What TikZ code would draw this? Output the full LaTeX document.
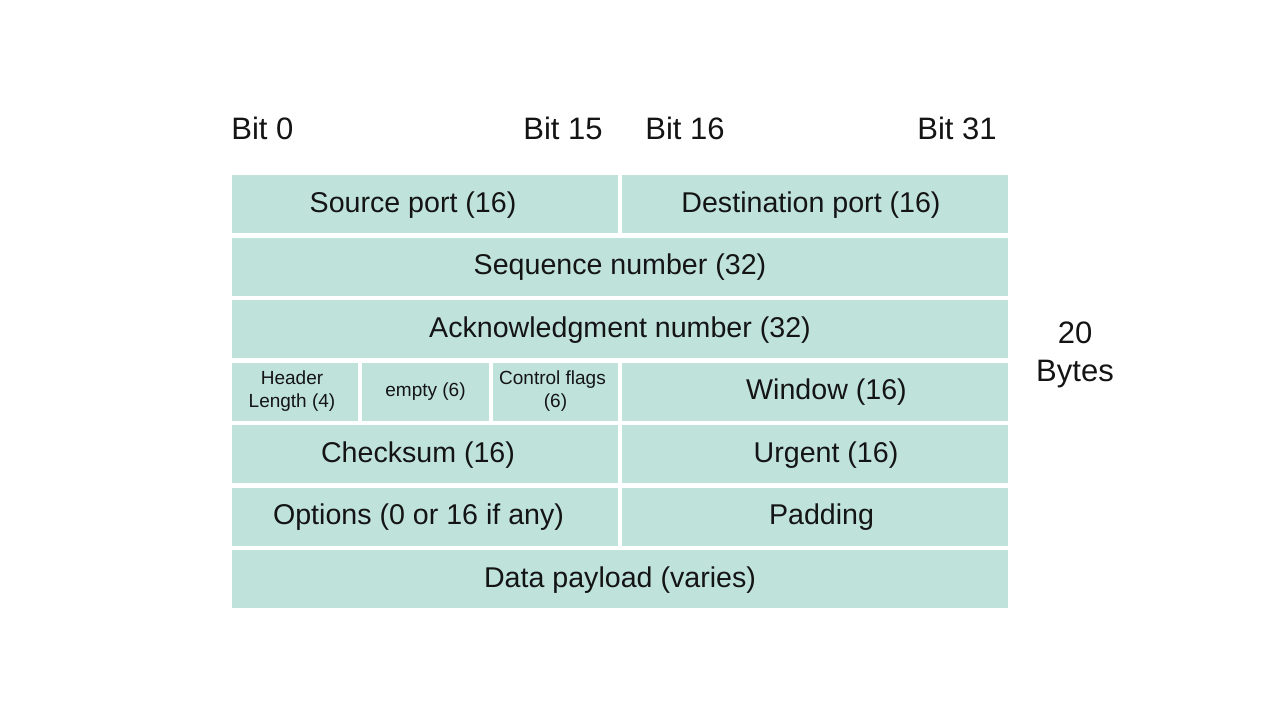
\documentclass[tikz,border=0pt]{standalone}
\usepackage{fontspec}
\setmainfont{Liberation Sans}
\definecolor{fieldc}{HTML}{BFE3DB}
\definecolor{txt}{HTML}{141414}
\begin{document}
\begin{tikzpicture}[x=0.5pt,y=-0.5pt,
  field/.style={fill=fieldc, draw=none, inner sep=0pt, minimum height=29pt, text=txt, font=\fontsize{14.3}{17}\selectfont, text height=0.8em, text depth=0pt},
  small/.style={fill=fieldc, draw=none, inner sep=0pt, minimum height=29pt, text=txt, font=\fontsize{9.5}{11.5}\selectfont, align=center},
  lbl/.style={inner sep=0pt, text=txt, font=\fontsize{15.5}{19}\selectfont}]
\useasboundingbox[fill=white] (0,0) rectangle (1280,720);
% row 1
\node[field, minimum width=193pt] (src) at (425,204) {\hspace*{-12pt}Source port (16)};
\node[field, minimum width=193pt] (dst) at (815,204) {\hspace*{-4pt}Destination port (16)};
% row 2
\node[field, minimum width=388pt] (seq) at (620,266.5) {Sequence number (32)};
% row 3
\node[field, minimum width=388pt] (ack) at (620,329) {Acknowledgment number (32)};
% row 4
\node[small, minimum width=63pt] (hlen) at (295,391.5) {\hspace*{-3pt}Header\\\hspace*{-3pt}Length (4)};
\node[small, minimum width=63.5pt] (empty) at (425.5,391.5) {empty (6)};
\node[small, minimum width=62.5pt] (flags) at (555.5,391.5) {\hspace*{-3pt}Control flags\\(6)};
\node[field, minimum width=193pt] (win) at (815,391.5) {\hspace*{11.5pt}Window (16)};
% row 5
\node[field, minimum width=193pt] (chk) at (425,454) {\hspace*{-7pt}Checksum (16)};
\node[field, minimum width=193pt] (urg) at (815,454) {\hspace*{11pt}Urgent (16)};
% row 6
\node[field, minimum width=193pt] (opt) at (425,516.5) {\hspace*{-6.5pt}Options (0 or 16 if any)};
\node[field, minimum width=193pt] (pad) at (815,516.5) {\hspace*{6.5pt}Padding};
% row 7
\node[field, minimum width=388pt] (data) at (620,579) {Data payload (varies)};
% bit labels
\node[lbl, anchor=base west] (b0) at (231,139) {Bit 0};
\node[lbl, anchor=base east] (b15) at (603,139) {Bit 15};
\node[lbl, anchor=base west] (b16) at (645,139) {Bit 16};
\node[lbl, anchor=base east] (b31) at (997,139) {Bit 31};
\node[lbl, anchor=base] (n20) at (1075,343) {20};
\node[lbl, anchor=base] (bytes) at (1075,381) {Bytes};
\end{tikzpicture}
\end{document}
